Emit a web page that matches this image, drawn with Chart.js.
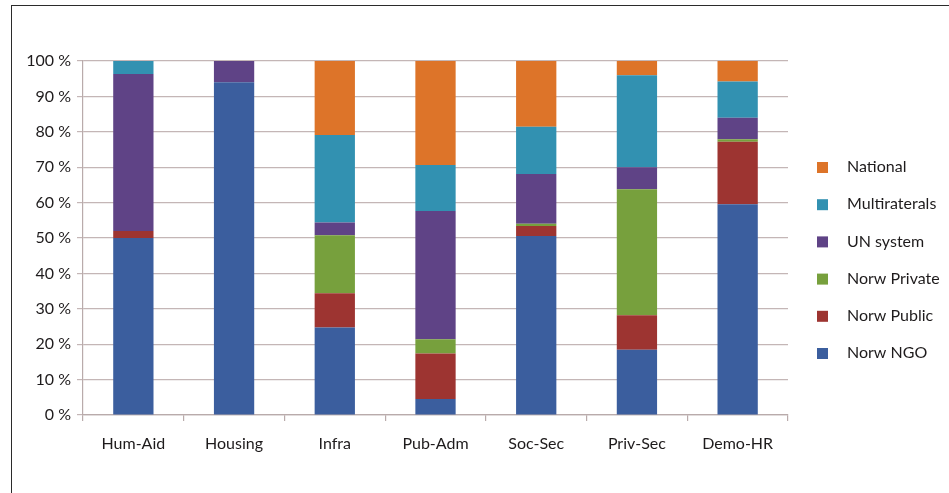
<!DOCTYPE html>
<html><head><meta charset="utf-8">
<script src="https://cdn.jsdelivr.net/npm/chart.js@4.4.0/dist/chart.umd.min.js"></script>
<style>
html,body{margin:0;padding:0;background:#fff;width:949px;height:493px;overflow:hidden}
#wrap{position:relative;width:949px;height:493px}
#frame{position:absolute;left:11px;top:5px;width:960px;height:520px;border-left:1.6px solid #2b2b2b;border-top:1.6px solid #2b2b2b;pointer-events:none}
canvas{position:absolute;left:0;top:0}
</style></head><body>
<div id="wrap"><canvas id="c" width="949" height="493"></canvas><div id="frame"></div></div>
<script>
const categories = ['Hum-Aid', 'Housing', 'Infra', 'Pub-Adm', 'Soc-Sec', 'Priv-Sec', 'Demo-HR'];
const seriesNames = ['Norw NGO', 'Norw Public', 'Norw Private', 'UN system', 'Multiraterals', 'National'];
const norwNGO       = [50.0, 94.0, 24.7,  4.5, 50.6, 18.4, 59.5];
const norwPublic    = [ 2.0,  0.0,  9.7, 12.9,  2.8,  9.8, 17.7];
const norwPrivate   = [ 0.0,  0.0, 16.4,  4.0,  0.6, 35.6,  0.7];
const unSystem      = [44.3,  6.0,  3.6, 36.2, 14.1,  6.2,  6.1];
const multilaterals = [ 3.7,  0.0, 24.7, 13.0, 13.3, 26.0, 10.2];
const national      = [ 0.0,  0.0, 20.9, 29.4, 18.6,  4.0,  5.8];
const yTickValues   = [0, 10, 20, 30, 40, 50, 60, 70, 80, 90, 100];

const seriesValues = [norwNGO, norwPublic, norwPrivate, unSystem, multilaterals, national];
const seriesColors = ['#3b5e9e', '#9d3431', '#77a03d', '#5f4386', '#3291b1', '#dd7429'];

const FONT = {family: 'Lato, sans-serif', size: 16};
const TEXT = '#1e1b1c';

const sideLegend = {
  id: 'sideLegend',
  afterDraw(chart) {
    const ctx = chart.ctx;
    const ds = chart.data.datasets;
    const x0 = chart.chartArea.right + 29;
    ctx.save();
    ctx.font = FONT.size + 'px ' + FONT.family;
    ctx.textBaseline = 'middle';
    ctx.textAlign = 'left';
    let k = 0;
    for (let i = ds.length - 1; i >= 0; i--) {
      const y = 167 + k * 37.2;
      ctx.fillStyle = ds[i].backgroundColor;
      ctx.fillRect(x0, y - 5, 11, 11);
      ctx.fillStyle = TEXT;
      ctx.fillText(ds[i].label, x0 + 30, y);
      k++;
    }
    ctx.restore();
  }
};

new Chart(document.getElementById('c'), {
  type: 'bar',
  data: {
    labels: categories,
    datasets: seriesNames.map((n, i) => ({
      label: n,
      data: seriesValues[i],
      backgroundColor: seriesColors[i],
      borderWidth: 0,
      categoryPercentage: 1,
      barPercentage: 0.4
    }))
  },
  options: {
    responsive: false,
    animation: false,
    devicePixelRatio: 1,
    layout: {padding: {left: 0, right: 161, top: 61, bottom: 0}},
    plugins: {legend: {display: false}, tooltip: {enabled: false}},
    scales: {
      x: {
        stacked: true,
        grid: {drawOnChartArea: false, offset: true, tickLength: 6, color: '#b9abab', lineWidth: 1.2},
        border: {color: '#b9abab', width: 1.2},
        ticks: {font: FONT, color: TEXT, padding: 13, maxRotation: 0},
        afterFit(s) { s.height = 78; }
      },
      y: {
        stacked: true,
        min: 0, max: 100,
        afterBuildTicks(s) { s.ticks = yTickValues.map(v => ({value: v})); },
        grid: {color: '#c4b6b6', lineWidth: 1.2, tickLength: 6},
        border: {color: '#b9abab', width: 1.2},
        ticks: {font: FONT, color: TEXT, padding: 6, callback: v => v + '\u00a0%'},
        afterFit(s) { s.width = 83; }
      }
    }
  },
  plugins: [sideLegend]
});
</script>
</body></html>
